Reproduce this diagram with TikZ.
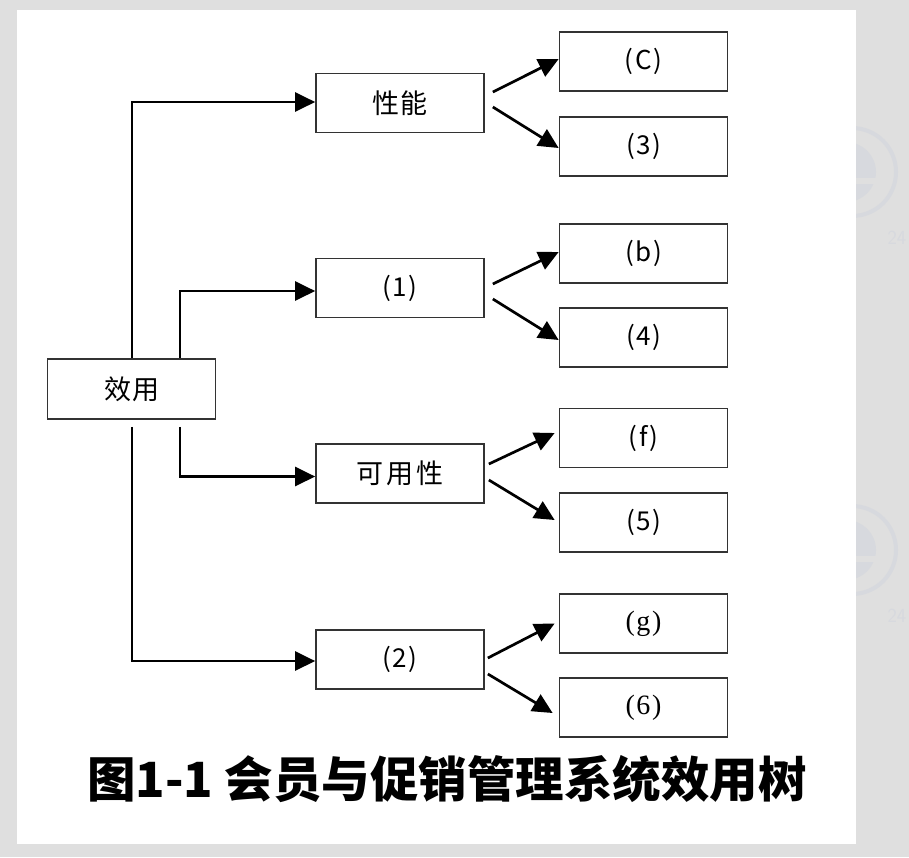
\documentclass[tikz,border=0pt]{standalone}
\usepackage{fontspec}
\setmainfont{Liberation Serif}
\newfontfamily\cjk{Noto Sans CJK SC}
\usetikzlibrary{arrows.meta,calc}

\definecolor{pagegray}{HTML}{DFDFDF}
\definecolor{markgray}{HTML}{D7D9DE}
\definecolor{boxline}{HTML}{333333}

\tikzset{
  treebox/.style={draw=boxline, line width=1.7pt, fill=white, inner sep=0pt,
    minimum width=168pt, minimum height=59pt, text=black},
  rootbox/.style={treebox, minimum width=168pt, minimum height=60pt},
  conn/.style={draw=black, line width=2.7pt,
    -{Triangle[length=20pt,width=19pt]}, shorten >=0pt},
  cjklabel/.style={font=\cjk\fontsize{27}{27}\selectfont},
  latlabel/.style={font=\cjk\fontsize{26}{26}\selectfont},
  serlabel/.style={font=\rmfamily\fontsize{28}{28}\selectfont},
}
\newcommand{\pr}[1]{(\hspace{1.5pt}#1\hspace{1.5pt})}

\begin{document}
\begin{tikzpicture}[x=1pt,y=-1pt]
\useasboundingbox (0,0) rectangle (909,857);
\fill[pagegray] (0,0) rectangle (909,857);

% faint logo marks in the page margin
\foreach \cy in {172,550}{
  \draw[markgray, line width=4pt] (852,\cy) circle (44);
  \fill[markgray] (846,\cy) circle (30);
  \fill[pagegray] (830,\cy+6) rectangle (880,\cy+12);
  \node[text=markgray, font=\fontsize{20}{20}\selectfont\sffamily, anchor=west]
    at (884,\cy+66) {24};
}

% white sheet
\fill[white] (17,10) rectangle (856,844);

% root
\node[rootbox, cjklabel] (use) at (131.5,389) {效\hspace{1pt}用};

% second level
\node[treebox, cjklabel] (perf) at (400,103)   {性\hspace{1pt}能};
\node[treebox, latlabel] (q1)   at (400,288)   {\pr{1}};
\node[treebox, cjklabel] (avail) at (400,473.5) {可\hspace{3.5pt}用\hspace{3.5pt}性};
\node[treebox, latlabel] (q2)   at (400,659.5) {\pr{2}};

% leaves
\node[treebox, latlabel] (lc) at (643.5,61.5)  {\pr{C}};
\node[treebox, latlabel] (l3) at (643.5,146.5) {\pr{3}};
\node[treebox, latlabel] (lb) at (643.5,253.5) {\pr{b}};
\node[treebox, latlabel] (l4) at (643.5,337.5) {\pr{4}};
\node[treebox, latlabel] (lf) at (643.5,438)   {\pr{f}};
\node[treebox, latlabel] (l5) at (643.5,522.5) {\pr{5}};
\node[treebox, serlabel] (lg) at (643.5,623.5) {\pr{g}};
\node[treebox, serlabel] (l6) at (643.5,707.5) {\pr{6}};

% root to second level
\draw[conn] ([xshift=0.5pt]use.north) |- ($(perf.west)+(0,-1)$);
\draw[conn] ([xshift=48.5pt]use.north) |- ($(q1.west)+(0,3)$);
\draw[conn] ($(use.south)+(48.5,7)$) |- ($(avail.west)+(0,3)$);
\draw[conn] ($(use.south)+(0.5,7)$) |- ($(q2.west)+(0,1.5)$);

% second level to leaves
\draw[conn] ($(perf.east)+(8,-11)$) -- ($(lc.west)+(0,-2.5)$);
\draw[conn] ($(perf.east)+(8,4)$)   -- ($(l3.west)+(0,1.5)$);
\draw[conn] ($(q1.east)+(8,-4)$)    -- ($(lb.west)+(0,-1.5)$);
\draw[conn] ($(q1.east)+(8,11)$)    -- ($(l4.west)+(0,2.5)$);
\draw[conn] ($(avail.east)+(4,-9.5)$) -- ($(lf.west)+(-4,-5)$);
\draw[conn] ($(avail.east)+(4,6.5)$)  -- ($(l5.west)+(-4,-2.5)$);
\draw[conn] ($(q2.east)+(3,-1.5)$)  -- ($(lg.west)+(-4,0)$);
\draw[conn] ($(q2.east)+(3,14.5)$)  -- ($(l6.west)+(-6,5.5)$);

% caption
\node[font=\cjk\bfseries\fontsize{48.5}{48.5}\selectfont, inner sep=0pt] (cap)
  at (447,779) {图1-1 会员与促销管理系统效用树};
\end{tikzpicture}
\end{document}
